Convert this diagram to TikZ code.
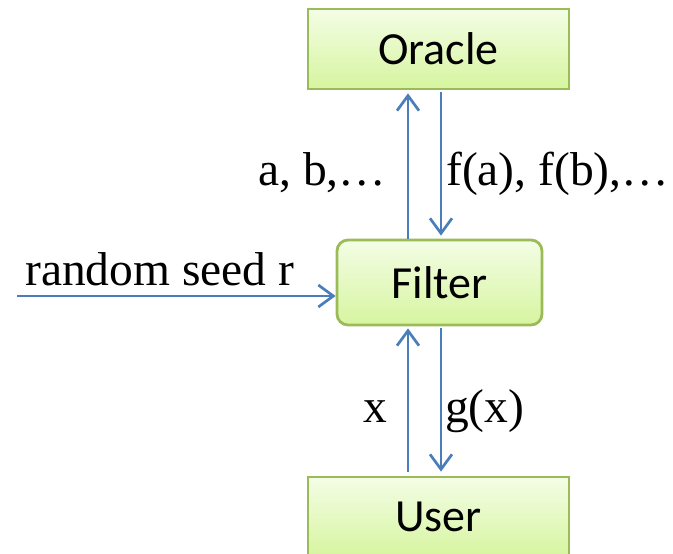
\documentclass[tikz,border=0pt]{standalone}
\usepackage{fontspec}
\setmainfont{Liberation Serif}
\newfontfamily\boxfont{Carlito}
\usetikzlibrary{arrows.meta}
\definecolor{boxborder}{HTML}{9BBB59}
\definecolor{boxtop}{HTML}{F4FDE6}
\definecolor{boxbottom}{HTML}{D6F59F}
\definecolor{arrowblue}{HTML}{4A7EBB}
\tikzset{
  gbox/.style={draw=boxborder, line width=2.8pt, top color=boxtop, bottom color=boxbottom,
    inner sep=0pt, font=\boxfont\fontsize{46}{55}\selectfont, text=black},
  arr/.style={draw=arrowblue, line width=2.7pt,
    -{Straight Barb[length=15pt,width=22pt,line width=2.7pt]}},
  lbl/.style={inner sep=0pt, anchor=base west, font=\fontsize{47.5}{57}\selectfont, text=black}
}
\begin{document}
\begin{tikzpicture}[x=1pt,y=-1pt]
\useasboundingbox (0,0) rectangle (673,554);
\begin{scope}
\clip (0,0) rectangle (673,554);
\node[gbox, minimum width=261pt, minimum height=80pt] (oracle) at (438.5,49) {Oracle};
\node[gbox, rounded corners=11pt, minimum width=205pt, minimum height=85pt] (filter) at (439.5,282.5) {Filter};
\node[gbox, minimum width=261pt, minimum height=80pt] (user) at (438.5,517) {User};
\end{scope}
\coordinate (upx) at (408,0);
\coordinate (dnx) at (441,0);
\coordinate (seed) at (17,296);
% Oracle <-> Filter
\draw[arr, shorten >=3pt] (filter.north -| upx) -- (oracle.south -| upx);
\draw[arr, shorten <=2pt, shorten >=3pt] (oracle.south -| dnx) -- (filter.north -| dnx);
% Filter <-> User
\draw[arr, shorten <=4pt, shorten >=2pt] (user.north -| upx) -- (filter.south -| upx);
\draw[arr, shorten <=2pt, shorten >=4pt] (filter.south -| dnx) -- (user.north -| dnx);
% random seed
\draw[arr] (seed) -- (filter.west |- seed);
% labels
\node[lbl] (lab) at (258,185) {a, b,\dots};
\node[lbl] (lfab) at (446,185) {f(a), f(b),\dots};
\node[lbl] (lx) at (363,422) {x};
\node[lbl] (lgx) at (445,422) {g(x)};
\node[lbl] (lseed) at (25,285) {random seed r};
\end{tikzpicture}
\end{document}
